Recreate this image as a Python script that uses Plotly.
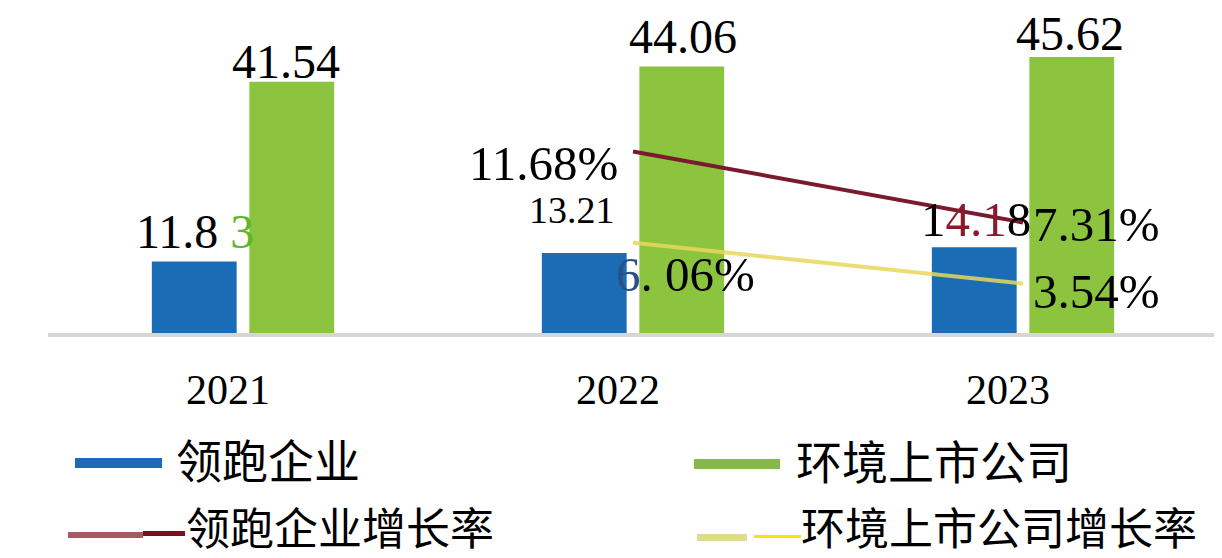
import plotly.graph_objects as go

# ---- data ----
years = ["2021", "2022", "2023"]
leader = [11.83, 13.21, 14.18]          # 领跑企业
listed = [41.54, 44.06, 45.62]          # 环境上市公司
growth_years = ["2022", "2023"]
leader_growth = [11.68, 7.31]           # 领跑企业增长率 (%)
listed_growth = [6.06, 3.54]            # 环境上市公司增长率 (%)
legend_names = ["领跑企业", "环境上市公司", "领跑企业增长率", "环境上市公司增长率"]

BLUE = "#1a6db4"
GREEN = "#8cc43f"
RED = "#7a1a2e"
YELLOW = "#e8d85c"

SERIF = "Liberation Serif"
CJK = "Noto Sans CJK SC"

fig = go.Figure()
fig.add_trace(go.Bar(x=years, y=leader, name=legend_names[0], marker=dict(color=BLUE, line=dict(width=0)), showlegend=False))
fig.add_trace(go.Bar(x=years, y=listed, name=legend_names[1], marker=dict(color=GREEN, line=dict(width=0)), showlegend=False))
fig.add_trace(go.Scatter(x=growth_years, y=leader_growth, yaxis="y2", mode="lines", name=legend_names[2],
                         line=dict(color=RED, width=4), showlegend=False))
fig.add_trace(go.Scatter(x=growth_years, y=listed_growth, yaxis="y2", mode="lines", name=legend_names[3],
                         line=dict(color=YELLOW, width=4), opacity=0.85, showlegend=False))

# page coordinates (page has an 8px body margin)
W, H = 1214, 550
PL, PR, PT, PB = 48, 1218, 8, 333      # plot area in page pixels
OFF = 8
def px2x(p):
    return (p - PL) / (PR - PL)
def px2y(p):
    return (PB - p) / (PB - PT)

ann = []
def lab(text, xi, y, yref, xs, ys, size=48):
    ann.append(dict(x=xi, y=y, xref="x", yref=yref, text=text, showarrow=False,
                    xshift=xs, yshift=ys, xanchor="center", yanchor="middle",
                    font=dict(family=SERIF, size=size, color="black")))

# bar value labels (x given as category index)
lf = [f"{v:.2f}" for v in leader]
leader_txt = [
    lf[0][:-1] + " <span style='color:#5cb82a'>" + lf[0][-1] + "</span>",
    lf[1],
    lf[2][0] + "<span style='color:#8b1a2b'>" + lf[2][1:4] + "</span>" + lf[2][4:],
]
leader_pos = [(-48, 30, 48), (-61, 43, 38), (-47, 28, 49)]
for i in range(3):
    xs, ys, sz = leader_pos[i]
    lab(leader_txt[i], i, leader[i], "y", xs, ys, sz)

listed_pos = [(43, 20), (50, 30), (47, 24)]
for i in range(3):
    xs, ys = listed_pos[i]
    lab(f"{listed[i]:.2f}", i, listed[i], "y", xs, ys)

# growth labels
lg_pos = [(-90, -12), (73, -2)]
for i in range(2):
    xs, ys = lg_pos[i]
    lab(f"{leader_growth[i]:.2f}%", years.index(growth_years[i]), leader_growth[i], "y2", xs, ys, 49)
g0 = f"{listed_growth[0]:.2f}%"
listed_txt = ["<span style='color:#2a4f8a'>" + g0[0] + "</span>" + g0[1] + " " + g0[2:],
              f"{listed_growth[1]:.2f}%"]
ls_pos = [(52, -32), (73, -8)]
for i in range(2):
    xs, ys = ls_pos[i]
    lab(listed_txt[i], years.index(growth_years[i]), listed_growth[i], "y2", xs, ys, 49)

# manual legend (page pixel positions)
shapes = []
def rect(x0, x1, y0, y1, color):
    shapes.append(dict(type="rect", xref="paper", yref="paper", x0=px2x(x0), x1=px2x(x1),
                       y0=px2y(y1), y1=px2y(y0), fillcolor=color, line=dict(width=0), layer="above"))
rect(75, 162, 458, 468, BLUE)
rect(694, 780, 459, 469, "#86b84c")
rect(68, 143, 532, 538, "#a55a64")
rect(143, 185, 531, 536, "#7a0f1f")
rect(697, 747, 534, 541, "#dcdc8c")
rect(754, 801, 535, 538, "#f5e600")

leg_pos = [(174, 458, 46), (794, 459, 46), (184, 526, 44), (799, 526, 44)]
for name, (px, py, sz) in zip(legend_names, leg_pos):
    ann.append(dict(x=px2x(px), y=px2y(py), xref="paper", yref="paper", text=name, showarrow=False,
                    xanchor="left", yanchor="middle", font=dict(family=CJK, size=sz, color="black")))

PX_PER_UNIT = 6.05
Y2_PX = 16.24
fig.update_layout(
    width=W, height=H,
    margin=dict(l=PL - OFF, r=W - (PR - OFF), t=PT - OFF, b=H - (PB - OFF)),
    paper_bgcolor="white", plot_bgcolor="white",
    barmode="group", bargap=0.5, bargroupgap=0.13,
    xaxis=dict(type="category", range=[-0.5, 2.5], showline=True, linecolor="#d6d6d6", linewidth=4, showgrid=False,
               ticks="", tickfont=dict(family=SERIF, size=42, color="black"),
               ticklabelstandoff=17, ticklabelshift=-15, fixedrange=True),
    yaxis=dict(range=[0, (PB - PT) / PX_PER_UNIT], visible=False, fixedrange=True),
    yaxis2=dict(range=[0.5, 0.5 + (PB - PT) / Y2_PX], overlaying="y", visible=False, fixedrange=True),
    annotations=ann, shapes=shapes, showlegend=False,
)

fig.write_html("out.html")
